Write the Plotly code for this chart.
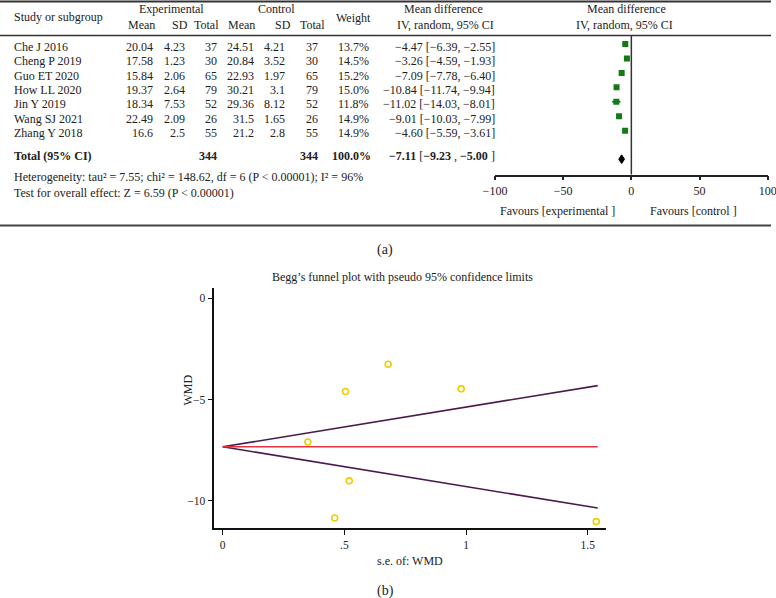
import plotly.graph_objects as go

# ---------------- data ----------------
studies = ["Che J 2016", "Cheng P 2019", "Guo ET 2020", "How LL 2020", "Jin Y 2019", "Wang SJ 2021", "Zhang Y 2018"]
exp_mean = ["20.04", "17.58", "15.84", "19.37", "18.34", "22.49", "16.6"]
exp_sd = ["4.23", "1.23", "2.06", "2.64", "7.53", "2.09", "2.5"]
exp_total = [37, 30, 65, 79, 52, 26, 55]
ctl_mean = ["24.51", "20.84", "22.93", "30.21", "29.36", "31.5", "21.2"]
ctl_sd = ["4.21", "3.52", "1.97", "3.1", "8.12", "1.65", "2.8"]
ctl_total = [37, 30, 65, 79, 52, 26, 55]
weights = ["13.7%", "14.5%", "15.2%", "15.0%", "11.8%", "14.9%", "14.9%"]
md = [-4.47, -3.26, -7.09, -10.84, -11.02, -9.01, -4.60]
md_lo = [-6.39, -4.59, -7.78, -11.74, -14.03, -10.03, -5.59]
md_hi = [-2.55, -1.93, -6.40, -9.94, -8.01, -7.99, -3.61]
total_exp = 344
total_ctl = 344
total_weight = "100.0%"
total_md, total_lo, total_hi = -7.11, -9.23, -5.00
forest_ticks = [-100, -50, 0, 50, 100]
heterogeneity = "Heterogeneity: tau² = 7.55; chi² = 148.62, df = 6 (P < 0.00001); I² = 96%"
overall = "Test for overall effect: Z = 6.59 (P < 0.00001)"

# funnel plot
funnel_se = [0.98, 0.68, 0.35, 0.46, 1.535, 0.52, 0.505]
funnel_wmd = [-4.47, -3.26, -7.09, -10.84, -11.02, -9.01, -4.60]
funnel_center = -7.33
funnel_se_max = 1.541
funnel_upper = [-7.33, -4.31]
funnel_lower = [-7.33, -10.35]
funnel_xticks = [0, 0.5, 1, 1.5]
funnel_xticktext = ["0", ".5", "1", "1.5"]
funnel_yticks = [0, -5, -10]

# ---------------- helpers ----------------
W, H = 776, 598
FONT = "Liberation Serif"
TXT = "#222222"


def px(x):
    return x / W


def py(y):
    return 1 - y / H


def fmt(v):
    s = f"{v:.2f}"
    return s.replace("-", "\u2212")


fig = go.Figure()
ann = []


def text(x, y, s, anchor="center", size=12, yref="paper", color=TXT, yshift=0, xref="paper", align="center"):
    ann.append(dict(x=x, y=y, xref=xref, yref=yref, text=s, showarrow=False,
                    xanchor=anchor, yanchor="middle", yshift=yshift, align=align,
                    font=dict(family=FONT, size=size, color=color)))


rows = list(range(len(studies)))
TOTAL_ROW = 7.55

# ---------------- forest plot marks ----------------
fig.add_trace(go.Scatter(
    x=md, y=rows, mode="markers", xaxis="x", yaxis="y",
    marker=dict(symbol="square", size=6, color="#147a14"),
    error_x=dict(type="data", symmetric=False,
                 array=[h - m for h, m in zip(md_hi, md)],
                 arrayminus=[m - l for m, l in zip(md, md_lo)],
                 color="#0f5f0f", thickness=1.6, width=0),
    hoverinfo="skip"))

dr = TOTAL_ROW + 0.42
fig.add_trace(go.Scatter(
    x=[total_lo, total_md, total_hi, total_md, total_lo],
    y=[dr, dr - 0.3, dr, dr + 0.3, dr],
    mode="lines", fill="toself", fillcolor="#000000",
    line=dict(color="#000000", width=1), xaxis="x", yaxis="y", hoverinfo="skip"))

# ---------------- funnel plot marks ----------------
fig.add_trace(go.Scatter(x=[0, funnel_se_max], y=funnel_upper, mode="lines",
                         line=dict(color="#4a1c4c", width=1.6), xaxis="x2", yaxis="y2", hoverinfo="skip"))
fig.add_trace(go.Scatter(x=[0, funnel_se_max], y=funnel_lower, mode="lines",
                         line=dict(color="#4a1c4c", width=1.6), xaxis="x2", yaxis="y2", hoverinfo="skip"))
fig.add_trace(go.Scatter(x=[0, funnel_se_max], y=[funnel_center, funnel_center], mode="lines",
                         line=dict(color="#e2343f", width=1.6), xaxis="x2", yaxis="y2", hoverinfo="skip"))
fig.add_trace(go.Scatter(x=funnel_se, y=funnel_wmd, mode="markers",
                         marker=dict(symbol="circle-open", size=6, color="#f0cc00", line=dict(width=1.6)),
                         xaxis="x2", yaxis="y2", hoverinfo="skip"))

# ---------------- table text ----------------
# headers
text(px(12), py(16.7), "Study or subgroup", anchor="left")
text(px(171.7), py(9), "Experimental")
text(px(276.7), py(9), "Control")
for cx, s in [(141, "Mean"), (179.5, "SD"), (206.5, "Total"), (241.7, "Mean"), (283, "SD"), (312.5, "Total")]:
    text(px(cx), py(25), s)
text(px(353.5), py(18.3), "Weight")
text(px(443), py(9), "Mean difference")
text(px(446), py(25), "IV, random, 95% CI")
text(px(626), py(9), "Mean difference")
text(px(624), py(25), "IV, random, 95% CI")

# body rows
cols_right = [155, 186.5, 218.5, 255.5, 287, 319.5, 370.5, 497]
ys = -2.6
for i in rows:
    text(px(12), i, studies[i], anchor="left", yref="y", yshift=ys)
    vals = [exp_mean[i], exp_sd[i], str(exp_total[i]), ctl_mean[i], ctl_sd[i], str(ctl_total[i]), weights[i],
            f"{fmt(md[i])} [{fmt(md_lo[i])}, {fmt(md_hi[i])}]"]
    for cx, v in zip(cols_right, vals):
        text(px(cx), i, v, anchor="right", yref="y", yshift=ys)

# total row
text(px(12), TOTAL_ROW, "<b>Total (95% CI)</b>", anchor="left", yref="y", yshift=ys)
text(px(cols_right[2]), TOTAL_ROW, f"<b>{total_exp}</b>", anchor="right", yref="y", yshift=ys)
text(px(cols_right[5]), TOTAL_ROW, f"<b>{total_ctl}</b>", anchor="right", yref="y", yshift=ys)
text(px(cols_right[6] + 2), TOTAL_ROW, f"<b>{total_weight}</b>", anchor="right", yref="y", yshift=ys)
text(px(cols_right[7]), TOTAL_ROW,
     f"<b>{fmt(total_md)}</b> [<b>{fmt(total_lo)}</b> , <b>{fmt(total_hi)}</b> ]",
     anchor="right", yref="y", yshift=ys)

# footers
text(px(12), py(184.5), heterogeneity + "<br>" + overall, anchor="left", size=12, align="left")
text(px(557.5), py(211), "Favours [experimental ]")
text(px(693), py(211), "Favours [control ]")
text(px(385), py(250), "(a)", size=14)

# funnel texts
text(px(402), py(276.5), "Begg\u2019s funnel plot with pseudo 95% confidence limits", size=12)
ann.append(dict(x=px(178), y=py(408), xref="paper", yref="paper", text="WMD", showarrow=False,
                textangle=-90, font=dict(family=FONT, size=12, color=TXT)))
text(px(410), py(561), "s.e. of: WMD", size=12)
text(px(385), py(591), "(b)", size=14)

# ---------------- rules ----------------
shapes = [
    dict(type="line", xref="paper", yref="paper", x0=0, x1=px(771), y0=py(1.5), y1=py(1.5),
         line=dict(color="#333333", width=2)),
    dict(type="line", xref="paper", yref="paper", x0=0, x1=px(771), y0=py(35.5), y1=py(35.5),
         line=dict(color="#333333", width=1.5)),
    dict(type="line", xref="paper", yref="paper", x0=0, x1=px(771), y0=py(225.5), y1=py(225.5),
         line=dict(color="#444444", width=2)),
    dict(type="line", xref="x", yref="paper", x0=0, x1=0, y0=py(174.5), y1=py(36),
         line=dict(color="#333333", width=1.5)),
]

fig.update_layout(
    template="none",
    width=W, height=H, margin=dict(l=0, r=0, t=0, b=0, pad=0, autoexpand=False),
    paper_bgcolor="white", plot_bgcolor="rgba(0,0,0,0)", showlegend=False,
    font=dict(family=FONT, color=TXT, size=12),
    annotations=ann, shapes=shapes,
    xaxis=dict(domain=[px(495), px(767.7)], range=[-100, 100], anchor="y", automargin=False,
               showline=True, linecolor="#222222", linewidth=1.5, ticks="outside", ticklen=4,
               tickwidth=1.5, tickcolor="#222222", tickvals=forest_ticks, showgrid=False, zeroline=False,
               ticklabeloverflow="allow",
               tickfont=dict(family=FONT, size=12, color=TXT)),
    yaxis=dict(domain=[py(174.5), py(36)], range=[9.03, -0.554], visible=False, anchor="x",
               automargin=False, showgrid=False, zeroline=False),
    xaxis2=dict(domain=[px(214.3), px(606)], range=[-0.0345, 1.575], anchor="y2", automargin=False,
                showline=True, linecolor="#111111", linewidth=1.5, ticks="outside", ticklen=5,
                tickwidth=1.2, tickcolor="#111111", tickvals=funnel_xticks, ticktext=funnel_xticktext,
                showgrid=False, zeroline=False, tickfont=dict(family=FONT, size=11.5, color=TXT)),
    yaxis2=dict(domain=[py(528.3), py(288.3)], range=[-11.35, 0.49], anchor="x2", automargin=False,
                showline=True, linecolor="#111111", linewidth=1.5, ticks="outside", ticklen=5,
                tickwidth=1.2, tickcolor="#111111", tickvals=funnel_yticks,
                showgrid=False, zeroline=False, tickfont=dict(family=FONT, size=11.5, color=TXT)),
)

fig.write_html("out.html", config={"displayModeBar": False},
               post_script="document.body.style.margin='0';")
